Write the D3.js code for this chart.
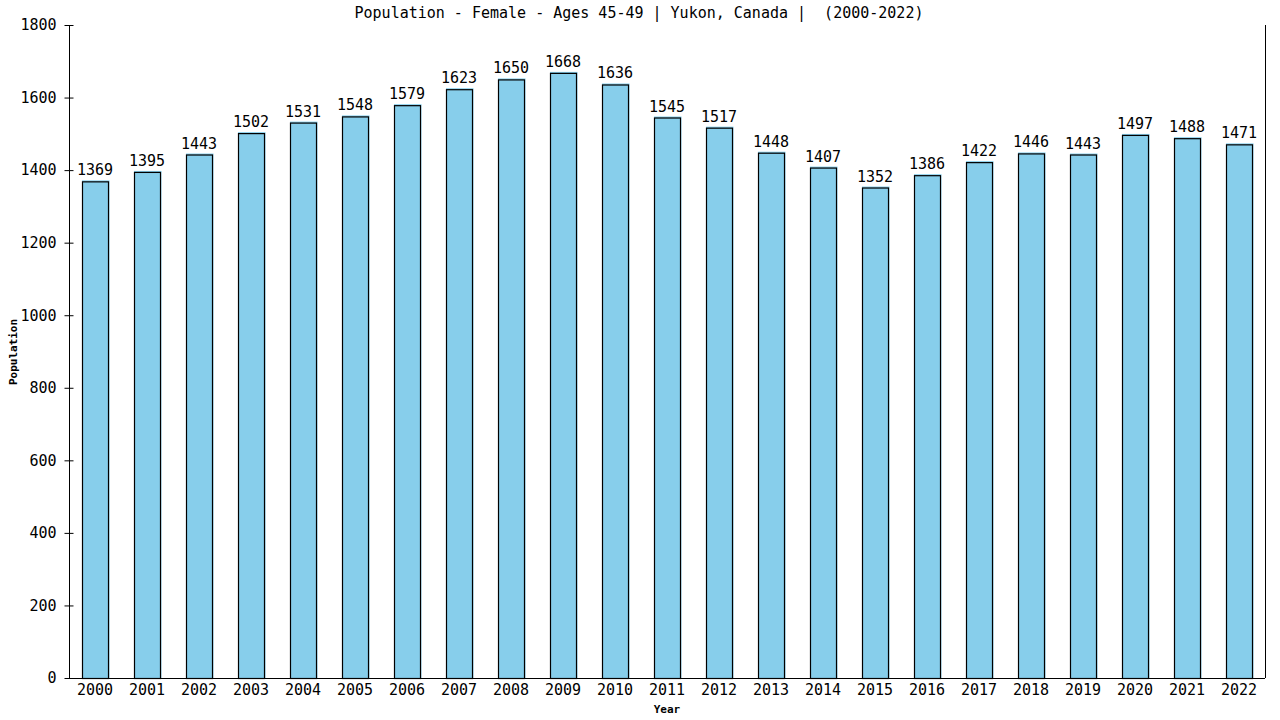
<!DOCTYPE html>
<html>
<head>
<meta charset="utf-8">
<script src="https://cdn.jsdelivr.net/npm/d3@7"></script>
<style>
  body { margin: 0; background: #fff; }
  svg text { font-family: "DejaVu Sans Mono", monospace; fill: #000; white-space: pre; }
</style>
</head>
<body>
<svg id="chart" width="1280" height="720"></svg>
<script>
// Chart data
const years = ["2000", "2001", "2002", "2003", "2004", "2005", "2006", "2007", "2008", "2009", "2010", "2011",
  "2012", "2013", "2014", "2015", "2016", "2017", "2018", "2019", "2020", "2021", "2022"];
const population = [1369, 1395, 1443, 1502, 1531, 1548, 1579, 1623, 1650, 1668, 1636, 1545,
  1517, 1448, 1407, 1352, 1386, 1422, 1446, 1443, 1497, 1488, 1471];
const yTicks = [0, 200, 400, 600, 800, 1000, 1200, 1400, 1600, 1800];

function drawChart() {
  const svg = d3.select("#chart");
  const margin = { top: 25, right: 15, bottom: 42, left: 69 };
  const width = 1280, height = 720;
  const fs = "15px";

  const x = d3.scaleBand()
    .domain(years)
    .range([margin.left, width - margin.right])
    .paddingInner(0.5)
    .paddingOuter(0.25);

  const y = d3.scaleLinear()
    .domain([0, 1800])
    .range([height - margin.bottom, margin.top]);

  // bar fill (slightly offset, like the original renderer)
  svg.append("g")
    .selectAll("rect")
    .data(population)
    .join("rect")
    .attr("x", (d, i) => x(years[i]))
    .attr("y", d => y(d) - 1)
    .attr("width", x.bandwidth() + 1.5)
    .attr("height", d => y(0) - y(d) + 1)
    .attr("fill", "#87ceeb");

  // bar outlines
  svg.append("g")
    .selectAll("rect")
    .data(population)
    .join("rect")
    .attr("x", (d, i) => x(years[i]) + 0.5)
    .attr("y", d => y(d) + 0.5)
    .attr("width", x.bandwidth())
    .attr("height", d => y(0) - y(d))
    .attr("fill", "none")
    .attr("stroke", "#000")
    .attr("stroke-width", 1.2);

  // value labels
  svg.append("g")
    .selectAll("text")
    .data(population)
    .join("text")
    .attr("x", (d, i) => x(years[i]) + x.bandwidth() / 2)
    .attr("y", d => y(d) - 6)
    .attr("text-anchor", "middle")
    .style("font-size", fs)
    .text(d => d);

  // y axis
  const yAxis = svg.append("g")
    .attr("transform", `translate(${margin.left + 0.5},0)`)
    .call(d3.axisLeft(y).tickValues(yTicks).tickFormat(d3.format("d")).tickSize(5).tickPadding(8));
  yAxis.selectAll(".tick line").attr("x2", 4).attr("x1", -5).attr("stroke", "#000");
  yAxis.select(".domain").attr("d", `M0,${margin.top}V${y(0)}`).attr("stroke", "#000");
  yAxis.selectAll("text").style("font-size", fs).style("font-family", "DejaVu Sans Mono");

  // x axis
  const xAxis = svg.append("g")
    .attr("transform", `translate(0,${y(0) + 0.5})`)
    .call(d3.axisBottom(x).tickSize(0).tickPadding(6));
  xAxis.select(".domain").attr("d", `M${margin.left},0H${width - margin.right}`).attr("stroke", "#000");
  xAxis.selectAll("text").style("font-size", fs).style("font-family", "DejaVu Sans Mono");

  // right border
  svg.append("line")
    .attr("x1", width - margin.right + 0.5).attr("x2", width - margin.right + 0.5)
    .attr("y1", margin.top).attr("y2", y(0))
    .attr("stroke", "#000");

  // title
  svg.append("text")
    .attr("x", 639)
    .attr("y", 18)
    .attr("text-anchor", "middle")
    .style("font-size", fs)
    .text("Population - Female - Ages 45-49 | Yukon, Canada |  (2000-2022)");

  // axis titles
  svg.append("text")
    .attr("x", 667)
    .attr("y", 713)
    .attr("text-anchor", "middle")
    .style("font-size", "11px")
    .style("font-weight", "bold")
    .text("Year");

  svg.append("text")
    .attr("transform", "rotate(-90)")
    .attr("x", -352)
    .attr("y", 17)
    .attr("text-anchor", "middle")
    .style("font-size", "11px")
    .style("font-weight", "bold")
    .text("Population");
}

drawChart();
</script>
</body>
</html>
